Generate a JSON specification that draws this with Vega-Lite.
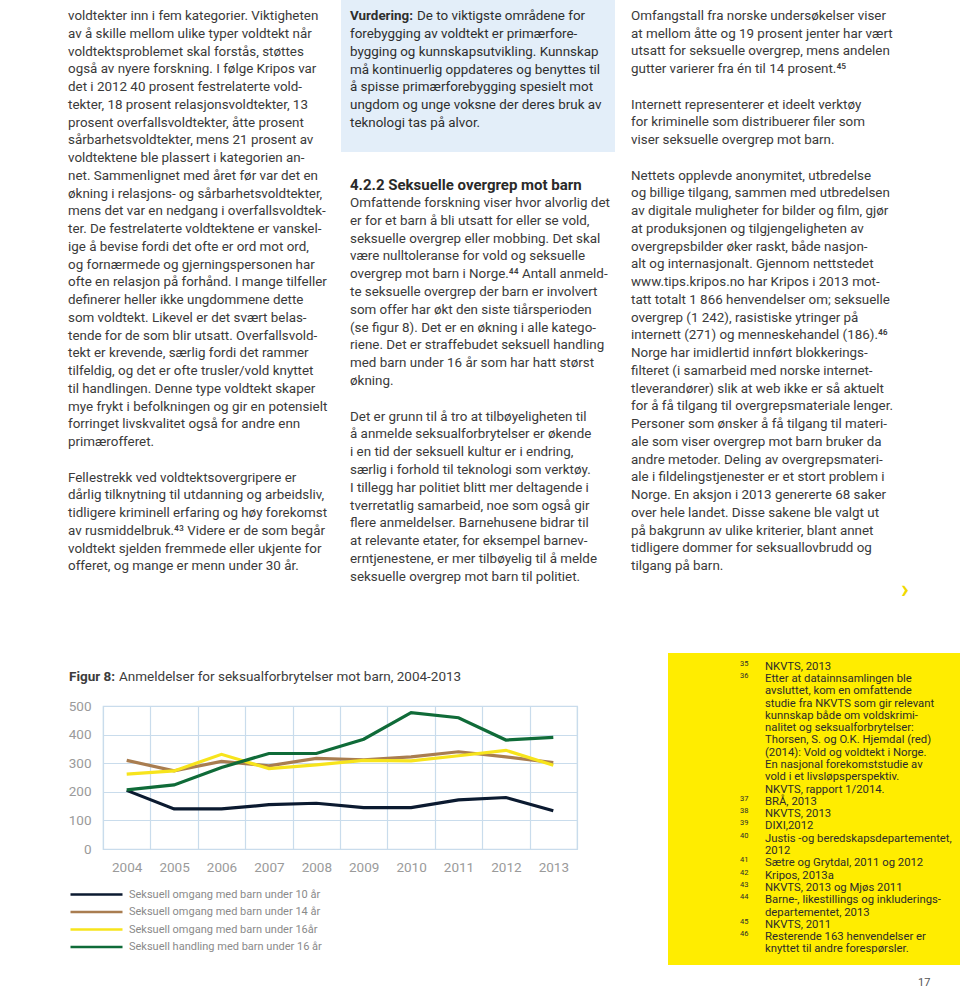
{
  "$schema": "https://vega.github.io/schema/vega-lite/v6.json",
  "padding": {"left": 67, "top": 0, "right": 0, "bottom": 0},
  "background": "white",
  "spacing": 43,
  "resolve": {"scale": {"color": "independent"}, "legend": {"color": "independent"}},
  "config": {
    "view": {"stroke": null},
    "font": "Roboto",
    "text": {"font": "Roboto", "align": "left", "baseline": "middle", "fontSize": 13.4, "color": "#3a3a3a"}
  },
  "datasets": {
    "c1": [
      {"ln": 0, "t": "voldtekter inn i fem kategorier. Viktigheten"},
      {"ln": 1, "t": "av å skille mellom ulike typer voldtekt når"},
      {"ln": 2, "t": "voldtektsproblemet skal forstås, støttes"},
      {"ln": 3, "t": "også av nyere forskning. I følge Kripos var"},
      {"ln": 4, "t": "det i 2012 40 prosent festrelaterte vold-"},
      {"ln": 5, "t": "tekter, 18 prosent relasjonsvoldtekter, 13"},
      {"ln": 6, "t": "prosent overfallsvoldtekter, åtte prosent"},
      {"ln": 7, "t": "sårbarhetsvoldtekter, mens 21 prosent av"},
      {"ln": 8, "t": "voldtektene ble plassert i kategorien an-"},
      {"ln": 9, "t": "net. Sammenlignet med året før var det en"},
      {"ln": 10, "t": "økning i relasjons- og sårbarhetsvoldtekter,"},
      {"ln": 11, "t": "mens det var en nedgang i overfallsvoldtek-"},
      {"ln": 12, "t": "ter. De festrelaterte voldtektene er vanskel-"},
      {"ln": 13, "t": "ige å bevise fordi det ofte er ord mot ord,"},
      {"ln": 14, "t": "og fornærmede og gjerningspersonen har"},
      {"ln": 15, "t": "ofte en relasjon på forhånd. I mange tilfeller"},
      {"ln": 16, "t": "definerer heller ikke ungdommene dette"},
      {"ln": 17, "t": "som voldtekt. Likevel er det svært belas-"},
      {"ln": 18, "t": "tende for de som blir utsatt. Overfallsvold-"},
      {"ln": 19, "t": "tekt er krevende, særlig fordi det rammer"},
      {"ln": 20, "t": "tilfeldig, og det er ofte trusler/vold knyttet"},
      {"ln": 21, "t": "til handlingen. Denne type voldtekt skaper"},
      {"ln": 22, "t": "mye frykt i befolkningen og gir en potensielt"},
      {"ln": 23, "t": "forringet livskvalitet også for andre enn"},
      {"ln": 24, "t": "primærofferet."},
      {"ln": 26, "t": "Fellestrekk ved voldtektsovergripere er"},
      {"ln": 27, "t": "dårlig tilknytning til utdanning og arbeidsliv,"},
      {"ln": 28, "t": "tidligere kriminell erfaring og høy forekomst"},
      {"ln": 29, "t": "av rusmiddelbruk.⁴³ Videre er de som begår"},
      {"ln": 30, "t": "voldtekt sjelden fremmede eller ukjente for"},
      {"ln": 31, "t": "offeret, og mange er menn under 30 år."}
    ],
    "box": [
      {"ln": 0, "ind": 0, "k": "b", "t": "Vurdering:"},
      {"ln": 0, "ind": 1, "k": "n", "t": "De to viktigste områdene for"},
      {"ln": 1, "ind": 0, "k": "n", "t": "forebygging av voldtekt er primærfore-"},
      {"ln": 2, "ind": 0, "k": "n", "t": "bygging og kunnskapsutvikling. Kunnskap"},
      {"ln": 3, "ind": 0, "k": "n", "t": "må kontinuerlig oppdateres og benyttes til"},
      {"ln": 4, "ind": 0, "k": "n", "t": "å spisse primærforebygging spesielt mot"},
      {"ln": 5, "ind": 0, "k": "n", "t": "ungdom og unge voksne der deres bruk av"},
      {"ln": 6, "ind": 0, "k": "n", "t": "teknologi tas på alvor."}
    ],
    "c2": [
      {"ln": -1, "k": "h", "t": "4.2.2  Seksuelle overgrep mot barn"},
      {"ln": 0, "k": "n", "t": "Omfattende forskning viser hvor alvorlig det"},
      {"ln": 1, "k": "n", "t": "er for et barn å bli utsatt for eller se vold,"},
      {"ln": 2, "k": "n", "t": "seksuelle overgrep eller mobbing. Det skal"},
      {"ln": 3, "k": "n", "t": "være nulltoleranse for vold og seksuelle"},
      {"ln": 4, "k": "n", "t": "overgrep mot barn i Norge.⁴⁴ Antall anmeld-"},
      {"ln": 5, "k": "n", "t": "te seksuelle overgrep der barn er involvert"},
      {"ln": 6, "k": "n", "t": "som offer har økt den siste tiårsperioden"},
      {"ln": 7, "k": "n", "t": "(se figur 8). Det er en økning i alle katego-"},
      {"ln": 8, "k": "n", "t": "riene. Det er straffebudet seksuell handling"},
      {"ln": 9, "k": "n", "t": "med barn under 16 år som har hatt størst"},
      {"ln": 10, "k": "n", "t": "økning."},
      {"ln": 12, "k": "n", "t": "Det er grunn til å tro at tilbøyeligheten til"},
      {"ln": 13, "k": "n", "t": "å anmelde seksualforbrytelser er økende"},
      {"ln": 14, "k": "n", "t": "i en tid der seksuell kultur er i endring,"},
      {"ln": 15, "k": "n", "t": "særlig i forhold til teknologi som verktøy."},
      {"ln": 16, "k": "n", "t": "I tillegg har politiet blitt mer deltagende i"},
      {"ln": 17, "k": "n", "t": "tverretatlig samarbeid, noe som også gir"},
      {"ln": 18, "k": "n", "t": "flere anmeldelser. Barnehusene bidrar til"},
      {"ln": 19, "k": "n", "t": "at relevante etater, for eksempel barnev-"},
      {"ln": 20, "k": "n", "t": "erntjenestene, er mer tilbøyelig til å melde"},
      {"ln": 21, "k": "n", "t": "seksuelle overgrep mot barn til politiet."}
    ],
    "c3": [
      {"ln": 0, "ind": 0, "k": "n", "t": "Omfangstall fra norske undersøkelser viser"},
      {"ln": 1, "ind": 0, "k": "n", "t": "at mellom åtte og 19 prosent jenter har vært"},
      {"ln": 2, "ind": 0, "k": "n", "t": "utsatt for seksuelle overgrep, mens andelen"},
      {"ln": 3, "ind": 0, "k": "n", "t": "gutter varierer fra én til 14 prosent.⁴⁵"},
      {"ln": 5, "ind": 0, "k": "n", "t": "Internett representerer et ideelt verktøy"},
      {"ln": 6, "ind": 0, "k": "n", "t": "for kriminelle som distribuerer filer som"},
      {"ln": 7, "ind": 0, "k": "n", "t": "viser seksuelle overgrep mot barn."},
      {"ln": 9, "ind": 0, "k": "n", "t": "Nettets opplevde anonymitet, utbredelse"},
      {"ln": 10, "ind": 0, "k": "n", "t": "og billige tilgang, sammen med utbredelsen"},
      {"ln": 11, "ind": 0, "k": "n", "t": "av digitale muligheter for bilder og film, gjør"},
      {"ln": 12, "ind": 0, "k": "n", "t": "at produksjonen og tilgjengeligheten av"},
      {"ln": 13, "ind": 0, "k": "n", "t": "overgrepsbilder øker raskt, både nasjon-"},
      {"ln": 14, "ind": 0, "k": "n", "t": "alt og internasjonalt. Gjennom nettstedet"},
      {"ln": 15, "ind": 0, "k": "n", "t": "www.tips.kripos.no har Kripos i 2013 mot-"},
      {"ln": 16, "ind": 0, "k": "n", "t": "tatt totalt 1 866 henvendelser om; seksuelle"},
      {"ln": 17, "ind": 0, "k": "n", "t": "overgrep (1 242), rasistiske ytringer på"},
      {"ln": 18, "ind": 0, "k": "n", "t": "internett (271) og menneskehandel (186).⁴⁶"},
      {"ln": 19, "ind": 0, "k": "n", "t": "Norge har imidlertid innført blokkerings-"},
      {"ln": 20, "ind": 0, "k": "n", "t": "filteret (i samarbeid med norske internet-"},
      {"ln": 21, "ind": 0, "k": "n", "t": "tleverandører) slik at web ikke er så aktuelt"},
      {"ln": 22, "ind": 0, "k": "n", "t": "for å få tilgang til overgrepsmateriale lenger."},
      {"ln": 23, "ind": 0, "k": "n", "t": "Personer som ønsker å få tilgang til materi-"},
      {"ln": 24, "ind": 0, "k": "n", "t": "ale som viser overgrep mot barn bruker da"},
      {"ln": 25, "ind": 0, "k": "n", "t": "andre metoder. Deling av overgrepsmateri-"},
      {"ln": 26, "ind": 0, "k": "n", "t": "ale i fildelingstjenester er et stort problem i"},
      {"ln": 27, "ind": 0, "k": "n", "t": "Norge. En aksjon i 2013 genererte 68 saker"},
      {"ln": 28, "ind": 0, "k": "n", "t": "over hele landet. Disse sakene ble valgt ut"},
      {"ln": 29, "ind": 0, "k": "n", "t": "på bakgrunn av ulike kriterier, blant annet"},
      {"ln": 30, "ind": 0, "k": "n", "t": "tidligere dommer for seksuallovbrudd og"},
      {"ln": 31, "ind": 0, "k": "n", "t": "tilgang på barn."},
      {"ln": 32.35, "ind": 1, "k": "chev", "t": "›"}
    ],
    "ttl": [
      {"ind": 0, "k": "b", "t": "Figur 8:"},
      {"ind": 1, "k": "n", "t": "Anmeldelser for seksualforbrytelser mot barn, 2004-2013"}
    ],
    "fig": [
      {"year": "2004", "series": "Seksuell omgang med barn under 10 år", "value": 205},
      {"year": "2005", "series": "Seksuell omgang med barn under 10 år", "value": 140},
      {"year": "2006", "series": "Seksuell omgang med barn under 10 år", "value": 140},
      {"year": "2007", "series": "Seksuell omgang med barn under 10 år", "value": 155},
      {"year": "2008", "series": "Seksuell omgang med barn under 10 år", "value": 160},
      {"year": "2009", "series": "Seksuell omgang med barn under 10 år", "value": 145},
      {"year": "2010", "series": "Seksuell omgang med barn under 10 år", "value": 145},
      {"year": "2011", "series": "Seksuell omgang med barn under 10 år", "value": 172},
      {"year": "2012", "series": "Seksuell omgang med barn under 10 år", "value": 180},
      {"year": "2013", "series": "Seksuell omgang med barn under 10 år", "value": 134},
      {"year": "2004", "series": "Seksuell omgang med barn under 14 år", "value": 310},
      {"year": "2005", "series": "Seksuell omgang med barn under 14 år", "value": 273},
      {"year": "2006", "series": "Seksuell omgang med barn under 14 år", "value": 306},
      {"year": "2007", "series": "Seksuell omgang med barn under 14 år", "value": 291},
      {"year": "2008", "series": "Seksuell omgang med barn under 14 år", "value": 317},
      {"year": "2009", "series": "Seksuell omgang med barn under 14 år", "value": 312},
      {"year": "2010", "series": "Seksuell omgang med barn under 14 år", "value": 322},
      {"year": "2011", "series": "Seksuell omgang med barn under 14 år", "value": 340},
      {"year": "2012", "series": "Seksuell omgang med barn under 14 år", "value": 322},
      {"year": "2013", "series": "Seksuell omgang med barn under 14 år", "value": 302},
      {"year": "2004", "series": "Seksuell omgang med barn under 16år", "value": 262},
      {"year": "2005", "series": "Seksuell omgang med barn under 16år", "value": 273},
      {"year": "2006", "series": "Seksuell omgang med barn under 16år", "value": 331},
      {"year": "2007", "series": "Seksuell omgang med barn under 16år", "value": 281},
      {"year": "2008", "series": "Seksuell omgang med barn under 16år", "value": 294},
      {"year": "2009", "series": "Seksuell omgang med barn under 16år", "value": 310},
      {"year": "2010", "series": "Seksuell omgang med barn under 16år", "value": 308},
      {"year": "2011", "series": "Seksuell omgang med barn under 16år", "value": 326},
      {"year": "2012", "series": "Seksuell omgang med barn under 16år", "value": 345},
      {"year": "2013", "series": "Seksuell omgang med barn under 16år", "value": 293},
      {"year": "2004", "series": "Seksuell handling med barn under 16 år", "value": 207},
      {"year": "2005", "series": "Seksuell handling med barn under 16 år", "value": 224},
      {"year": "2006", "series": "Seksuell handling med barn under 16 år", "value": 285},
      {"year": "2007", "series": "Seksuell handling med barn under 16 år", "value": 334},
      {"year": "2008", "series": "Seksuell handling med barn under 16 år", "value": 334},
      {"year": "2009", "series": "Seksuell handling med barn under 16 år", "value": 384},
      {"year": "2010", "series": "Seksuell handling med barn under 16 år", "value": 477},
      {"year": "2011", "series": "Seksuell handling med barn under 16 år", "value": 459},
      {"year": "2012", "series": "Seksuell handling med barn under 16 år", "value": 381},
      {"year": "2013", "series": "Seksuell handling med barn under 16 år", "value": 390}
    ],
    "fn": [
      {"ln": 0, "ind": 0, "k": "n", "t": "35"},
      {"ln": 0, "ind": 1, "k": "t", "t": "NKVTS, 2013"},
      {"ln": 1, "ind": 0, "k": "n", "t": "36"},
      {"ln": 1, "ind": 1, "k": "t", "t": "Etter at datainnsamlingen ble"},
      {"ln": 2, "ind": 1, "k": "t", "t": "avsluttet, kom en omfattende"},
      {"ln": 3, "ind": 1, "k": "t", "t": "studie fra NKVTS som gir relevant"},
      {"ln": 4, "ind": 1, "k": "t", "t": "kunnskap både om voldskrimi-"},
      {"ln": 5, "ind": 1, "k": "t", "t": "nalitet og seksualforbrytelser:"},
      {"ln": 6, "ind": 1, "k": "t", "t": "Thorsen, S. og O.K. Hjemdal (red)"},
      {"ln": 7, "ind": 1, "k": "t", "t": "(2014): Vold og voldtekt i Norge."},
      {"ln": 8, "ind": 1, "k": "t", "t": "En nasjonal forekomststudie av"},
      {"ln": 9, "ind": 1, "k": "t", "t": "vold i et livsløpsperspektiv."},
      {"ln": 10, "ind": 1, "k": "t", "t": "NKVTS, rapport 1/2014."},
      {"ln": 11, "ind": 0, "k": "n", "t": "37"},
      {"ln": 11, "ind": 1, "k": "t", "t": "BRÅ, 2013"},
      {"ln": 12, "ind": 0, "k": "n", "t": "38"},
      {"ln": 12, "ind": 1, "k": "t", "t": "NKVTS, 2013"},
      {"ln": 13, "ind": 0, "k": "n", "t": "39"},
      {"ln": 13, "ind": 1, "k": "t", "t": "DIXI,2012"},
      {"ln": 14, "ind": 0, "k": "n", "t": "40"},
      {"ln": 14, "ind": 1, "k": "t", "t": "Justis -og beredskapsdepartementet,"},
      {"ln": 15, "ind": 1, "k": "t", "t": "2012"},
      {"ln": 16, "ind": 0, "k": "n", "t": "41"},
      {"ln": 16, "ind": 1, "k": "t", "t": "Sætre og Grytdal, 2011 og 2012"},
      {"ln": 17, "ind": 0, "k": "n", "t": "42"},
      {"ln": 17, "ind": 1, "k": "t", "t": "Kripos, 2013a"},
      {"ln": 18, "ind": 0, "k": "n", "t": "43"},
      {"ln": 18, "ind": 1, "k": "t", "t": "NKVTS, 2013 og Mjøs 2011"},
      {"ln": 19, "ind": 0, "k": "n", "t": "44"},
      {"ln": 19, "ind": 1, "k": "t", "t": "Barne-, likestillings og inkluderings-"},
      {"ln": 20, "ind": 1, "k": "t", "t": "departementet, 2013"},
      {"ln": 21, "ind": 0, "k": "n", "t": "45"},
      {"ln": 21, "ind": 1, "k": "t", "t": "NKVTS, 2011"},
      {"ln": 22, "ind": 0, "k": "n", "t": "46"},
      {"ln": 22, "ind": 1, "k": "t", "t": "Resterende 163 henvendelser er"},
      {"ln": 23, "ind": 1, "k": "t", "t": "knyttet til andre forespørsler."},
      {"ln": 25.7, "ind": 7.12, "k": "p", "t": "17"}
    ]
  },
  "vconcat": [
    {
      "spacing": 8,
      "hconcat": [
        {
          "width": 230,
          "height": 610,
          "view": {"fill": "white", "stroke": null},
          "data": {"name": "c1"},
          "mark": {"type": "text"},
          "encoding": {
            "x": {"datum": 0, "type": "quantitative", "scale": {"domain": [0, 1], "range": [-35, -34], "nice": false, "zero": false}, "axis": null},
            "y": {"field": "ln", "type": "quantitative", "scale": {"domain": [0, 31], "range": [16, 566.25], "nice": false, "zero": false}, "axis": null},
            "text": {"field": "t"}
          }
        },
        {
          "spacing": 0,
          "vconcat": [
            {
              "width": 274,
              "height": 152,
              "view": {"fill": "#e3eef9", "stroke": null},
              "data": {"name": "box"},
              "encoding": {
                "x": {"field": "ind", "type": "quantitative", "scale": {"domain": [0, 1], "range": [9, 76], "nice": false, "zero": false}, "axis": null},
                "y": {"field": "ln", "type": "quantitative", "scale": {"domain": [0, 6], "range": [16, 123], "nice": false, "zero": false}, "axis": null},
                "text": {"field": "t"}
              },
              "layer": [
                {"transform": [{"filter": "datum.k == 'b'"}], "mark": {"type": "text", "fontWeight": "bold", "color": "#2e2e2e"}},
                {"transform": [{"filter": "datum.k != 'b'"}], "mark": {"type": "text", "color": "#2e2e2e"}}
              ]
            },
            {
              "width": 282,
              "height": 458,
              "view": {"fill": "white", "stroke": null},
              "data": {"name": "c2"},
              "encoding": {
                "x": {"datum": 0, "type": "quantitative", "scale": {"domain": [0, 1], "range": [9, 10], "nice": false, "zero": false}, "axis": null},
                "y": {"field": "ln", "type": "quantitative", "scale": {"domain": [-1, 21], "range": [33.2, 424.8], "nice": false, "zero": false}, "axis": null},
                "text": {"field": "t"}
              },
              "layer": [
                {"transform": [{"filter": "datum.k == 'h'"}], "mark": {"type": "text", "fontWeight": "bold", "fontSize": 15, "color": "#2a2a2a"}},
                {"transform": [{"filter": "datum.k != 'h'"}], "mark": {"type": "text"}}
              ]
            }
          ]
        },
        {
          "width": 310,
          "height": 610,
          "view": {"fill": "white", "stroke": null},
          "data": {"name": "c3"},
          "encoding": {
            "x": {"field": "ind", "type": "quantitative", "scale": {"domain": [0, 1], "range": [0, 270], "nice": false, "zero": false}, "axis": null},
            "y": {"field": "ln", "type": "quantitative", "scale": {"domain": [0, 31], "range": [16, 566], "nice": false, "zero": false}, "axis": null},
            "text": {"field": "t"}
          },
          "layer": [
            {"transform": [{"filter": "datum.k != 'chev'"}], "mark": {"type": "text"}},
            {"transform": [{"filter": "datum.k == 'chev'"}], "mark": {"type": "text", "fontSize": 26, "fontWeight": "bold", "color": "#f0d900"}}
          ]
        }
      ]
    },
    {
      "spacing": 90,
      "resolve": {"scale": {"color": "independent"}, "legend": {"color": "independent"}},
      "hconcat": [
        {
          "spacing": 0,
          "resolve": {"scale": {"color": "independent"}, "legend": {"color": "independent"}},
          "vconcat": [
            {
              "width": 474,
              "height": 45,
              "view": {"fill": "white", "stroke": null},
              "data": {"name": "ttl"},
              "encoding": {
                "x": {"field": "ind", "type": "quantitative", "scale": {"domain": [0, 1], "range": [-34, 16], "nice": false, "zero": false}, "axis": null},
                "y": {"datum": 0, "type": "quantitative", "scale": {"domain": [0, 1], "range": [24, 40], "nice": false, "zero": false}, "axis": null},
                "text": {"field": "t"}
              },
              "layer": [
                {"transform": [{"filter": "datum.k == 'b'"}], "mark": {"type": "text", "fontSize": 13.5, "fontWeight": "bold", "color": "#3c3c3c"}},
                {"transform": [{"filter": "datum.k != 'b'"}], "mark": {"type": "text", "fontSize": 13.5, "color": "#3c3c3c"}}
              ]
            },
            {
              "width": 474,
              "height": 143,
              "view": {"stroke": "#c9dcec", "strokeWidth": 1.2},
              "data": {"name": "fig"},
              "mark": {"type": "line", "strokeWidth": 3.2},
              "encoding": {
                "x": {
                  "field": "year", "type": "ordinal",
                  "scale": {"type": "band", "paddingInner": 0, "paddingOuter": 0},
                  "axis": {"title": null, "labelAngle": 0, "labelFont": "Roboto", "labelFontSize": 13.5, "labelColor": "#9a9a9a", "domain": false, "ticks": false, "grid": true, "gridColor": "#c9dcec", "gridWidth": 1.2, "tickBand": "extent", "labelPadding": 11}
                },
                "y": {
                  "field": "value", "type": "quantitative",
                  "scale": {"domain": [0, 500]},
                  "axis": {"title": null, "values": [0, 100, 200, 300, 400, 500], "labelFont": "Roboto", "labelFontSize": 13.5, "labelColor": "#9a9a9a", "domain": false, "ticks": false, "grid": true, "gridColor": "#c9dcec", "gridWidth": 1.2, "labelPadding": 12}
                },
                "color": {
                  "field": "series", "type": "nominal",
                  "scale": {
                    "domain": ["Seksuell omgang med barn under 10 år", "Seksuell omgang med barn under 14 år", "Seksuell omgang med barn under 16år", "Seksuell handling med barn under 16 år"],
                    "range": ["#0b1a30", "#a97d50", "#f7e41c", "#0f6b38"]
                  },
                  "legend": {"title": null, "orient": "none", "legendX": -34, "legendY": 180, "symbolType": "stroke", "symbolSize": 2704, "symbolStrokeWidth": 2.5, "clipHeight": 17, "rowPadding": 0.5, "labelFont": "Roboto", "labelFontSize": 11, "labelColor": "#8a8a8a", "labelOffset": 5, "labelLimit": 300}
                }
              }
            }
          ]
        },
        {
          "width": 295,
          "height": 312,
          "view": {"fill": "#ffed00", "stroke": null},
          "data": {"name": "fn"},
          "encoding": {
            "x": {"field": "ind", "type": "quantitative", "scale": {"domain": [0, 1], "range": [72, 97], "nice": false, "zero": false}, "axis": null},
            "y": {"field": "ln", "type": "quantitative", "scale": {"domain": [0, 23], "range": [13.7, 296.4], "nice": false, "zero": false}, "axis": null},
            "text": {"field": "t"}
          },
          "layer": [
            {"transform": [{"filter": "datum.k == 't'"}], "mark": {"type": "text", "fontSize": 11.3, "color": "#2b2b2b"}},
            {"transform": [{"filter": "datum.k == 'n'"}], "mark": {"type": "text", "fontSize": 7.5, "dy": -3, "color": "#2b2b2b"}},
            {"transform": [{"filter": "datum.k == 'p'"}], "mark": {"type": "text", "fontSize": 11, "color": "#555555"}}
          ]
        }
      ]
    }
  ]
}
